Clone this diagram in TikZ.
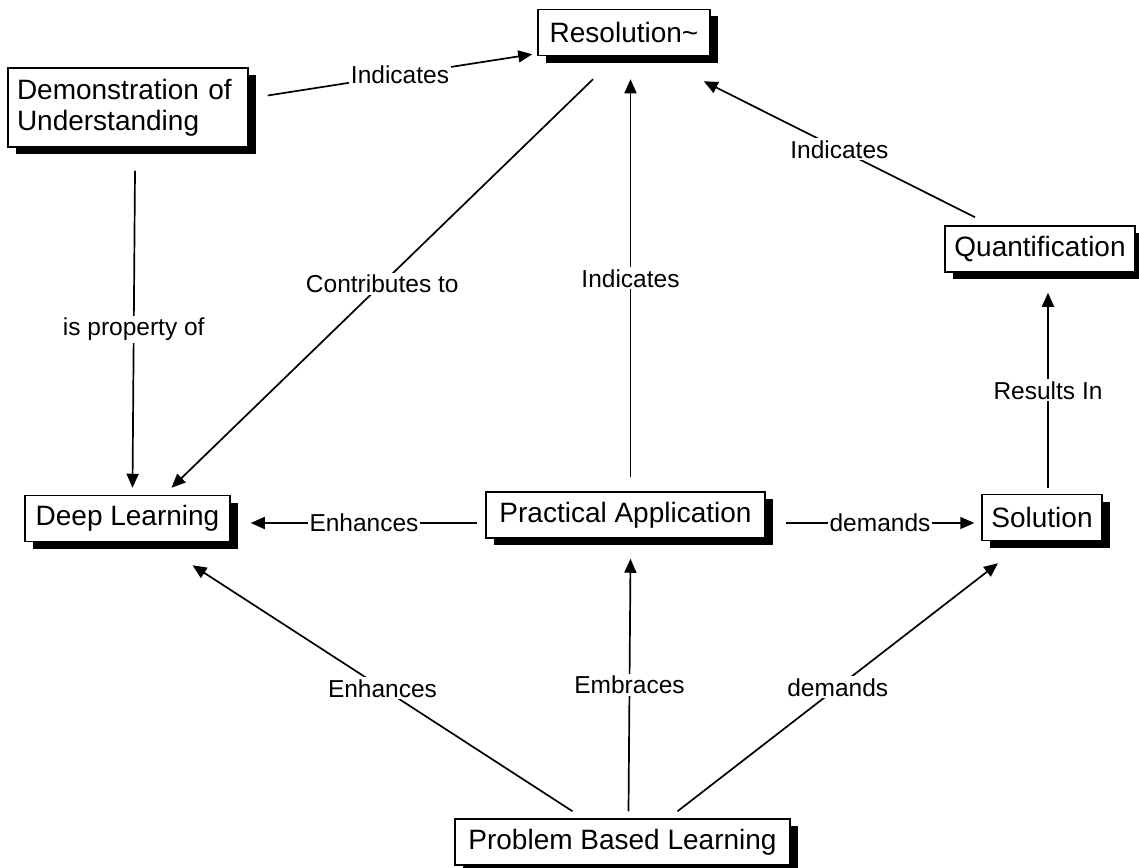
\documentclass[tikz,border=0pt]{standalone}
\usepackage{fontspec}
\setmainfont{Liberation Sans}
\usepackage{tikz}
\usetikzlibrary{arrows.meta}
\usetikzlibrary{shadows}

\begin{document}
\begin{tikzpicture}[x=1pt,y=-1pt,>={Triangle[length=14pt,width=12pt]},
    concept/.style={draw, line width=1.5pt, fill=white, inner sep=0pt, minimum height=46pt,
      font=\fontsize{28}{31}\selectfont,
      drop shadow={shadow xshift=8pt, shadow yshift=-7pt, fill=black, opacity=1}},
    link/.style={->, line width=1.7pt},
    lbl/.style={fill=white, inner sep=2pt, font=\fontsize{24.5}{28}\selectfont}]
    \useasboundingbox (0,0) rectangle (1139,867);
    % concepts
    \node[concept, minimum width=172pt] (res) at (624,32.5) {Resolution\textasciitilde};
    \node[concept, minimum width=240pt, minimum height=79pt, text width=222pt, align=left] (demo) at (128,107.5)
      {Demonstration of\\Understanding};
    \node[concept, minimum width=190pt] (quant) at (1040,249) {Quantification};
    \node[concept, minimum width=205pt] (deep) at (127.5,518.5) {Deep Learning};
    \node[concept, minimum width=279pt] (prac) at (625.5,515) {Practical Application};
    \node[concept, minimum width=120pt] (sol) at (1042,517.5) {Solution};
    \node[concept, minimum width=335pt] (pbl) at (622.5,842) {Problem Based Learning};
    % links
    \draw[link] ([shift={(19,-12)}]demo.east) -- node[lbl] {Indicates} ([shift={(-5,-2)}]res.south west);
    \draw[link] ([shift={(-31,23)}]res.south) -- node[lbl] {Contributes to} ([shift={(44,-7)}]deep.north);
    \draw[link] ([shift={(5,-14)}]prac.north) -- node[lbl] {Indicates} ([shift={(5,23)}]prac.north |- res.south);
    \draw[link] ([shift={(-65,-8)}]quant.north) -- node[lbl] {Indicates} ([shift={(-7,25)}]res.south east);
    \draw[link] ([shift={(7,23)}]demo.south) -- node[lbl] {is property of} ([shift={(5,-7)}]deep.north);
    \draw[link] ([shift={(6,-6)}]sol.north) -- node[lbl] {Results In} ([shift={(6,20)}]sol.north |- quant.south);
    \draw[link] ([shift={(-8,8)}]prac.west) -- node[lbl] {Enhances} ([shift={(20,4.5)}]deep.east);
    \draw[link] ([shift={(20,8)}]prac.east) -- node[lbl] {demands} ([shift={(-7,5.5)}]sol.west);
    \draw[link] ([shift={(-50,-7)}]pbl.north) -- node[lbl] {Enhances} ([shift={(65,23)}]deep.south);
    \draw[link] ([shift={(6,-7)}]pbl.north) -- node[lbl] {Embraces} ([shift={(5,20)}]prac.south);
    \draw[link] ([shift={(55,-7)}]pbl.north) -- node[lbl] {demands} ([shift={(-44,22)}]sol.south);
\end{tikzpicture}
\end{document}
